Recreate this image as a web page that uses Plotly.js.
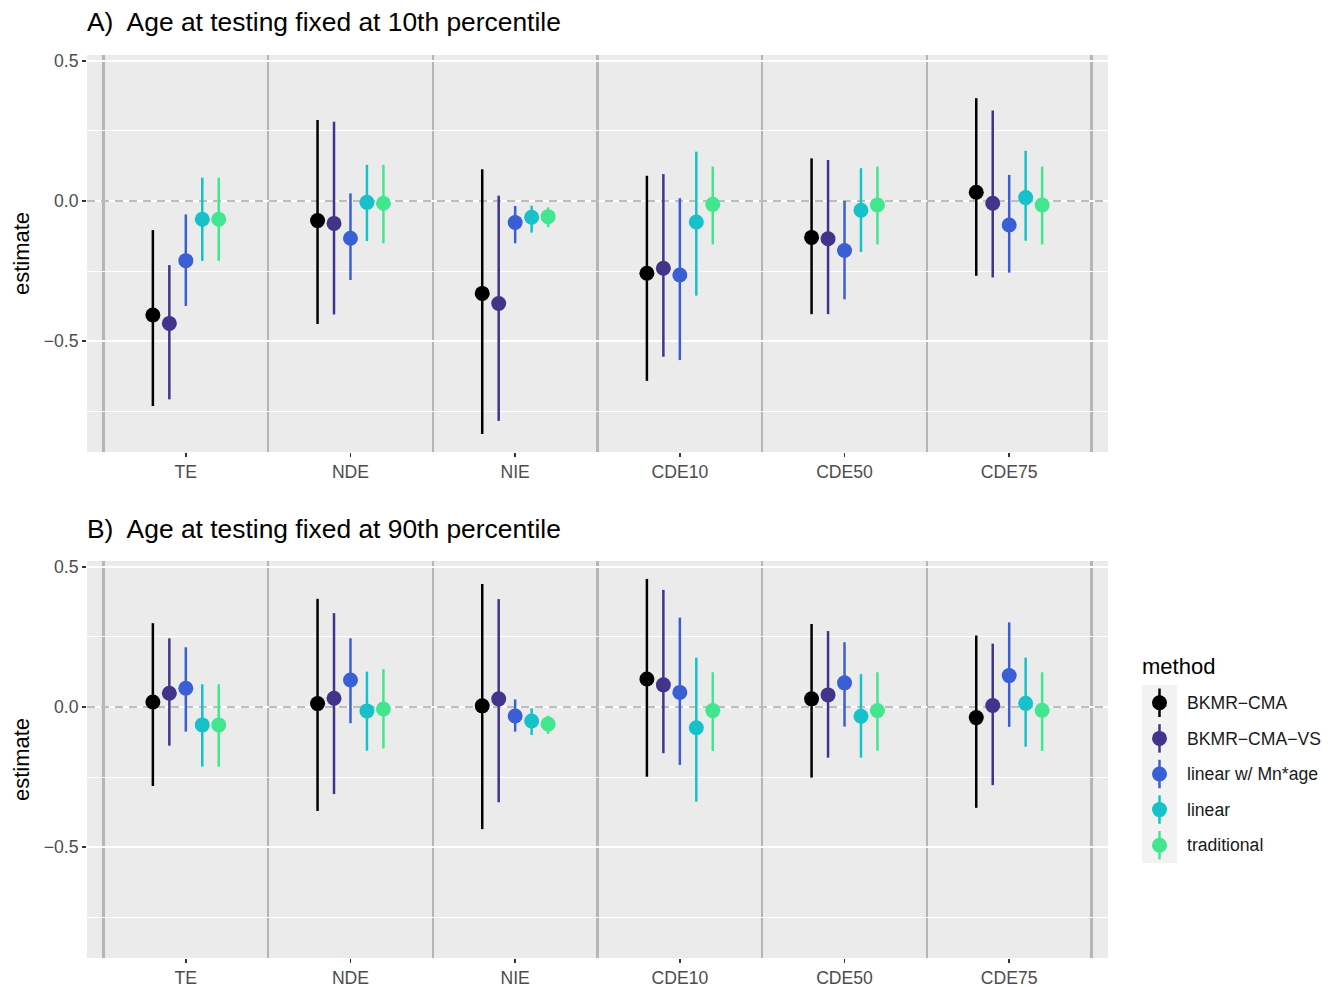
<!DOCTYPE html>
<html>
<head>
<meta charset="utf-8">
<script src="https://cdn.plot.ly/plotly-3.0.1.min.js"></script>
<style>
  html, body { margin: 0; padding: 0; background: #ffffff; }
  #chart { width: 1344px; height: 987px; }
</style>
</head>
<body>
<div id="chart"></div>
<script>
// ---------------- data ----------------
const categories = ["TE", "NDE", "NIE", "CDE10", "CDE50", "CDE75"];
const methods = ["BKMR\u2212CMA", "BKMR\u2212CMA\u2212VS", "linear w/ Mn*age", "linear", "traditional"];
const yTickVals = [-0.5, 0, 0.5];

// Panel A: age at testing fixed at 10th percentile
const estA_bkmr  = [-0.407, -0.070, -0.330, -0.258, -0.130,  0.031];
const loA_bkmr   = [-0.732, -0.439, -0.832, -0.642, -0.404, -0.267];
const hiA_bkmr   = [-0.104,  0.289,  0.113,  0.090,  0.152,  0.367];
const estA_vs    = [-0.437, -0.080, -0.366, -0.240, -0.135, -0.008];
const loA_vs     = [-0.708, -0.405, -0.785, -0.556, -0.404, -0.273];
const hiA_vs     = [-0.229,  0.283,  0.019,  0.096,  0.146,  0.323];
const estA_mnage = [-0.213, -0.133, -0.077, -0.264, -0.177, -0.086];
const loA_mnage  = [-0.375, -0.282, -0.151, -0.568, -0.351, -0.256];
const hiA_mnage  = [-0.048,  0.027, -0.018,  0.010,  0.000,  0.093];
const estA_lin   = [-0.065, -0.005, -0.058, -0.075, -0.033,  0.012];
const loA_lin    = [-0.214, -0.143, -0.113, -0.338, -0.182, -0.142];
const hiA_lin    = [ 0.083,  0.129, -0.017,  0.176,  0.117,  0.179];
const estA_trad  = [-0.065, -0.008, -0.056, -0.012, -0.014, -0.014];
const loA_trad   = [-0.214, -0.151, -0.094, -0.155, -0.155, -0.155];
const hiA_trad   = [ 0.083,  0.129, -0.023,  0.123,  0.123,  0.123];

// Panel B: age at testing fixed at 90th percentile
const estB_bkmr  = [ 0.018,  0.012,  0.004,  0.100,  0.029, -0.038];
const loB_bkmr   = [-0.282, -0.371, -0.436, -0.249, -0.252, -0.360];
const hiB_bkmr   = [ 0.299,  0.386,  0.439,  0.457,  0.296,  0.255];
const estB_vs    = [ 0.049,  0.031,  0.029,  0.079,  0.043,  0.005];
const loB_vs     = [-0.138, -0.311, -0.340, -0.165, -0.181, -0.279];
const hiB_vs     = [ 0.245,  0.335,  0.385,  0.418,  0.271,  0.226];
const estB_mnage = [ 0.067,  0.096, -0.032,  0.052,  0.086,  0.112];
const loB_mnage  = [-0.088, -0.058, -0.088, -0.207, -0.070, -0.071];
const hiB_mnage  = [ 0.213,  0.245,  0.027,  0.319,  0.231,  0.302];
const estB_lin   = [-0.064, -0.014, -0.050, -0.074, -0.033,  0.013];
const loB_lin    = [-0.213, -0.156, -0.100, -0.338, -0.181, -0.142];
const hiB_lin    = [ 0.081,  0.126, -0.005,  0.176,  0.117,  0.176];
const estB_trad  = [-0.064, -0.007, -0.061, -0.013, -0.013, -0.012];
const loB_trad   = [-0.213, -0.148, -0.096, -0.157, -0.156, -0.157];
const hiB_trad   = [ 0.081,  0.135, -0.031,  0.124,  0.124,  0.124];

// ---------------- styles ----------------
const colors = ["#000000", "#40358a", "#3a5fd4", "#16c1ca", "#42e68f"];
const dodgeStep = 0.1;
const FONT = "Liberation Sans, Arial, Helvetica, sans-serif";

const panelA = [
  [estA_bkmr, loA_bkmr, hiA_bkmr], [estA_vs, loA_vs, hiA_vs], [estA_mnage, loA_mnage, hiA_mnage],
  [estA_lin, loA_lin, hiA_lin], [estA_trad, loA_trad, hiA_trad]
];
const panelB = [
  [estB_bkmr, loB_bkmr, hiB_bkmr], [estB_vs, loB_vs, hiB_vs], [estB_mnage, loB_mnage, hiB_mnage],
  [estB_lin, loB_lin, hiB_lin], [estB_trad, loB_trad, hiB_trad]
];

function pointRange(series, m, xa, ya) {
  const est = series[0], lo = series[1], hi = series[2];
  const off = (m - (methods.length - 1) / 2) * dodgeStep;
  return {
    type: "scatter", mode: "markers",
    x: categories.map((c, i) => i + 1 + off),
    y: est,
    xaxis: xa, yaxis: ya,
    name: methods[m], showlegend: false, hoverinfo: "skip",
    marker: { color: colors[m], size: 15, line: { width: 0 } },
    error_y: {
      type: "data", symmetric: false,
      array: est.map((v, i) => hi[i] - v),
      arrayminus: est.map((v, i) => v - lo[i]),
      color: colors[m], thickness: 2.5, width: 0
    }
  };
}

const traces = [];
panelA.forEach((s, m) => traces.push(pointRange(s, m, "x", "y")));
panelB.forEach((s, m) => traces.push(pointRange(s, m, "x2", "y2")));

// legend keys, one per method, drawn on a small helper axis
methods.forEach((name, i) => {
  traces.push({
    type: "scatter", mode: "markers",
    x: [0.5], y: [i + 1],
    xaxis: "x3", yaxis: "y3", showlegend: false, hoverinfo: "skip",
    marker: { color: colors[i], size: 15 },
    error_y: { type: "constant", value: 0.4, color: colors[i], thickness: 2.5, width: 0 }
  });
});

const W = 1344, H = 987;
const mL = 87, mR = 0, mT = 55, mB = 29;
const pw = W - mL - mR, ph = H - mT - mB;
const px = v => (v - mL) / pw;           // pixel x -> paper
const py = v => (H - mB - v) / ph;       // pixel y -> paper

const xRange = [0.4, 6.6];
const xCommon = {
  range: xRange, tickmode: "array",
  tickvals: categories.map((c, i) => i + 1), ticktext: categories,
  ticks: "outside", ticklen: 4, tickwidth: 1.4, tickcolor: "#333333",
  tickfont: { family: FONT, size: 17.6, color: "#4d4d4d" },
  showgrid: false, zeroline: false, showline: false, fixedrange: true,
  minor: { tickmode: "array", tickvals: [0.5, 1.5, 2.5, 3.5, 4.5, 5.5, 6.5],
           showgrid: true, gridcolor: "#b5b5b5", gridwidth: 2.4, ticks: "" }
};
const yCommon = {
  range: [-0.896, 0.521], tickmode: "array", tickvals: yTickVals, tickformat: ".1f",
  ticks: "outside", ticklen: 4, tickwidth: 1.4, tickcolor: "#333333",
  tickfont: { family: FONT, size: 17.6, color: "#4d4d4d" },
  showgrid: true, gridcolor: "#ffffff", gridwidth: 2,
  zeroline: false, showline: false, fixedrange: true,
  minor: { tickmode: "array", tickvals: [-0.75, -0.25, 0.25], showgrid: true,
           gridcolor: "#ffffff", gridwidth: 1, ticks: "" },
  title: { text: "estimate", font: { family: FONT, size: 22, color: "#000000" }, standoff: 8 }
};

const xDomain = [0, px(1108)];
const zeroDash = { color: "#a8a8a8", width: 1.6, dash: "8px,6px" };
const layout = {
  width: W, height: H,
  margin: { l: mL, r: mR, t: mT, b: mB, pad: 0 },
  paper_bgcolor: "#ffffff", plot_bgcolor: "#ebebeb",
  showlegend: false,
  font: { family: FONT },
  xaxis: Object.assign({}, xCommon, { domain: xDomain, anchor: "y" }),
  yaxis: Object.assign({}, yCommon, { domain: [py(452), 1], anchor: "x" }),
  xaxis2: Object.assign({}, xCommon, { domain: xDomain, anchor: "y2" }),
  yaxis2: Object.assign({}, yCommon, { domain: [0, py(561)], anchor: "x2" }),
  xaxis3: { domain: [px(1142), px(1177)], anchor: "y3", range: [0, 1], visible: false, fixedrange: true },
  yaxis3: {
    domain: [py(863), py(685)], anchor: "x3", range: [methods.length + 0.5, 0.5],
    side: "right", tickmode: "array", tickvals: methods.map((_, i) => i + 1), ticktext: methods,
    ticks: "", showgrid: false, zeroline: false, showline: false, fixedrange: true,
    ticklabelstandoff: 9,
    tickfont: { family: FONT, size: 17.6, color: "#1a1a1a" }
  },
  shapes: [
    { type: "line", xref: "x", yref: "y", x0: xRange[0], x1: xRange[1], y0: 0, y1: 0,
      layer: "between", line: zeroDash },
    { type: "line", xref: "x2", yref: "y2", x0: xRange[0], x1: xRange[1], y0: 0, y1: 0,
      layer: "between", line: zeroDash },
    { type: "rect", xref: "x3", yref: "y3", x0: 0, x1: 1, y0: 0.5, y1: methods.length + 0.5,
      layer: "below", fillcolor: "#f2f2f2", line: { width: 0 } }
  ],
  annotations: [
    { text: "A)  Age at testing fixed at 10th percentile", xref: "paper", yref: "paper",
      x: px(85), y: py(22), xanchor: "left", yanchor: "middle", showarrow: false,
      font: { family: FONT, size: 26.4, color: "#000000" } },
    { text: "B)  Age at testing fixed at 90th percentile", xref: "paper", yref: "paper",
      x: px(85), y: py(529), xanchor: "left", yanchor: "middle", showarrow: false,
      font: { family: FONT, size: 26.4, color: "#000000" } },
    { text: "method", xref: "paper", yref: "paper",
      x: px(1140), y: py(666), xanchor: "left", yanchor: "middle", showarrow: false,
      font: { family: FONT, size: 22, color: "#000000" } }
  ]
};

Plotly.newPlot("chart", traces, layout, { staticPlot: true, displayModeBar: false });
</script>
</body>
</html>
